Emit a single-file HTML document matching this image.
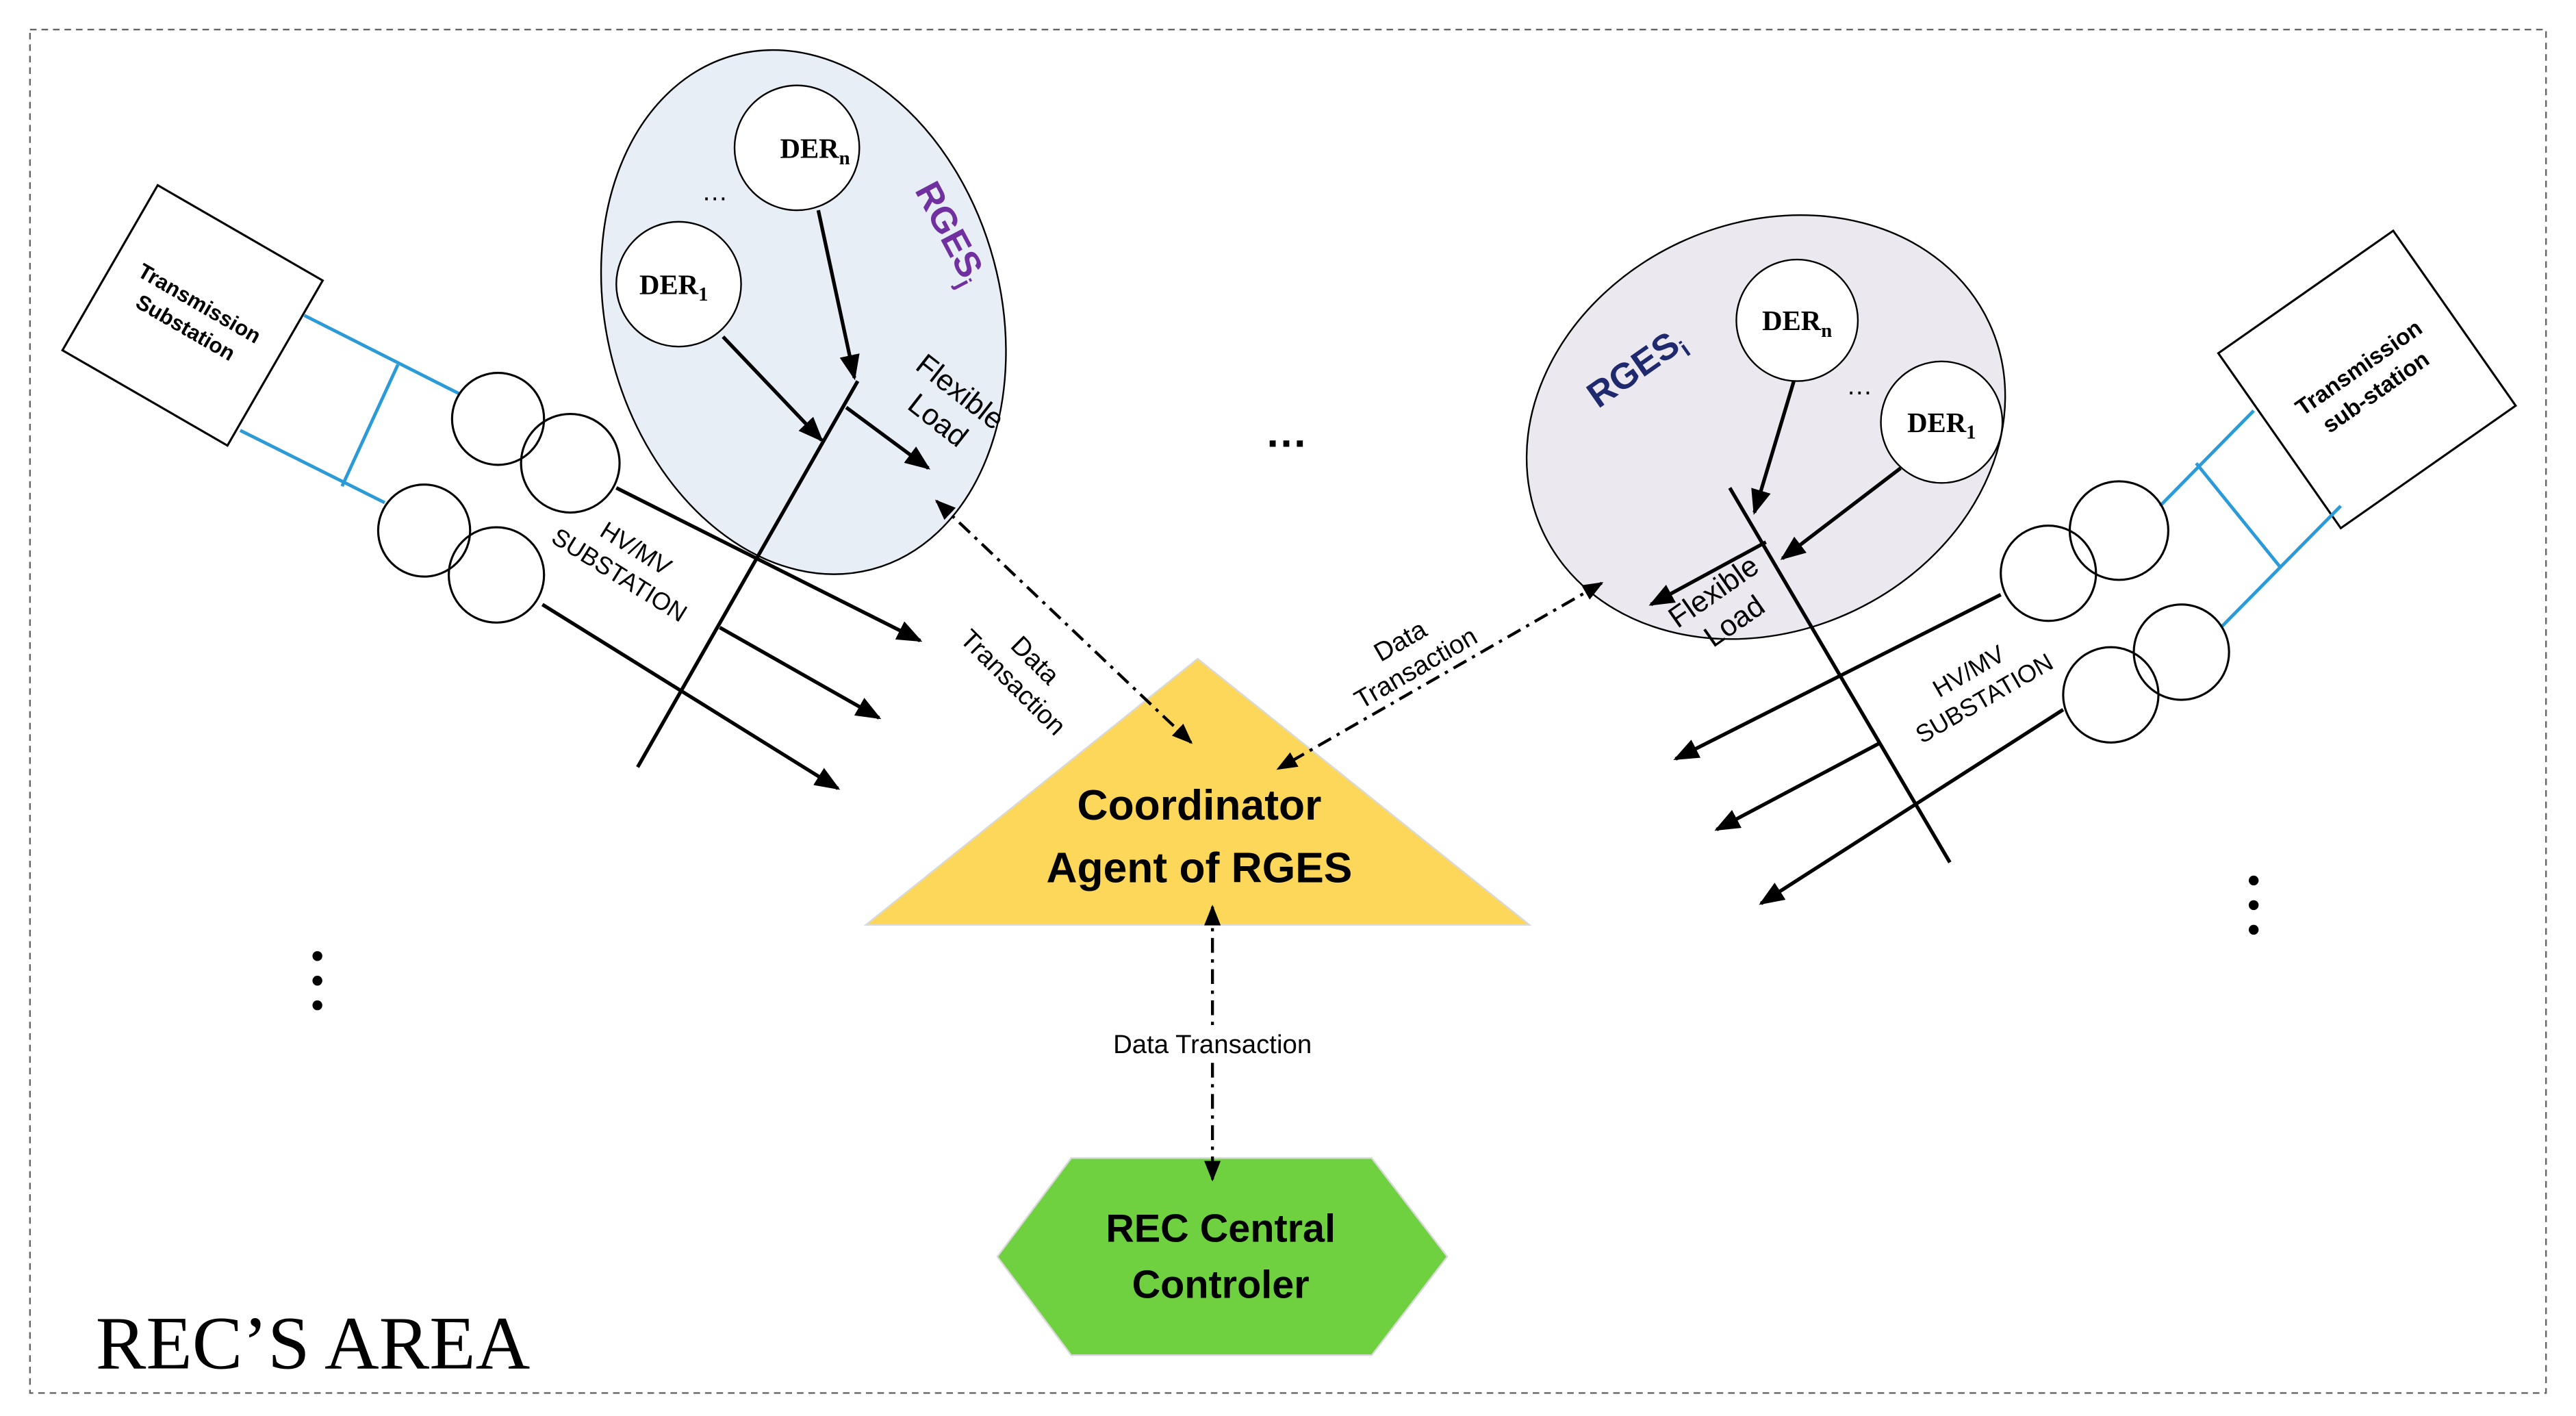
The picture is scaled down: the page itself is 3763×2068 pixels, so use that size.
<!DOCTYPE html>
<html><head><meta charset="utf-8"><style>html,body{margin:0;padding:0;background:#fff}svg{display:block}</style></head>
<body>
<svg width="3763" height="2068" viewBox="0 0 1568 862" xmlns="http://www.w3.org/2000/svg">
<defs>
<marker id="a" viewBox="0 0 10 10" refX="9" refY="5" markerWidth="7" markerHeight="7" orient="auto-start-reverse"><path d="M0,1 L10,5 L0,9 z" fill="#000"/></marker>
</defs>
<rect width="1568" height="862" fill="#fff"/>
<rect x="18" y="18" width="1532" height="830" fill="none" stroke="#666" stroke-width="1" stroke-dasharray="4,3"/>

<!-- Ellipses first -->
<ellipse cx="489" cy="190" rx="120" ry="162" transform="rotate(-15 489 190)" fill="#e8eef6" stroke="#000" stroke-width="1"/>
<ellipse cx="1075" cy="260" rx="150" ry="124" transform="rotate(-25 1075 260)" fill="#ece8f0" stroke="#000" stroke-width="1"/>

<!-- Left transmission substation -->
<g transform="translate(117,192) rotate(30)">
<rect x="-58" y="-58" width="116" height="116" fill="#fff" stroke="#000" stroke-width="1.3"/>
<text x="0" y="-4" font-family="Liberation Sans, sans-serif" font-size="13" font-weight="bold" text-anchor="middle">Transmission</text>
<text x="0" y="13" font-family="Liberation Sans, sans-serif" font-size="13" font-weight="bold" text-anchor="middle">Substation</text>
</g>
<g stroke="#2a9ad8" stroke-width="2" fill="none">
<line x1="185" y1="192" x2="280" y2="240"/>
<line x1="146" y1="262" x2="234" y2="306"/>
<line x1="242" y1="222" x2="208" y2="296"/>
</g>
<g fill="none" stroke="#000" stroke-width="1.3">
<circle cx="303" cy="255" r="28"/><circle cx="347" cy="282" r="30"/>
<circle cx="258" cy="323" r="28"/><circle cx="302" cy="350" r="29"/>
</g>
<g stroke="#000" stroke-width="2.2" fill="none">
<line x1="388" y1="467" x2="522" y2="232"/>
<line x1="375" y1="297" x2="560" y2="390" marker-end="url(#a)"/>
<line x1="438" y1="382" x2="535" y2="437" marker-end="url(#a)"/>
<line x1="330" y1="368" x2="510" y2="480" marker-end="url(#a)"/>
</g>
<text transform="translate(380,345) rotate(32)" font-family="Liberation Sans, sans-serif" font-size="15" text-anchor="middle"><tspan x="0" y="-8">HV/MV</tspan><tspan x="0" y="11">SUBSTATION</tspan></text>

<!-- Left RGES -->
<circle cx="485" cy="90" r="38" fill="#fff" stroke="#000" stroke-width="1"/>
<circle cx="413" cy="173" r="38" fill="#fff" stroke="#000" stroke-width="1"/>
<text x="496" y="96" font-family="Liberation Serif, serif" font-weight="bold" font-size="17" text-anchor="middle">DER<tspan font-size="12" dy="4">n</tspan></text>
<text x="410" y="179" font-family="Liberation Serif, serif" font-weight="bold" font-size="17" text-anchor="middle">DER<tspan font-size="12" dy="4">1</tspan></text>
<text x="435" y="122" font-family="Liberation Sans, sans-serif" font-size="16" text-anchor="middle">…</text>
<text transform="translate(572,145) rotate(62)" font-family="Liberation Sans, sans-serif" font-weight="bold" font-size="22" fill="#7030a0" text-anchor="middle">RGES<tspan font-size="14" dy="5">j</tspan></text>
<g stroke="#000" stroke-width="2.2" fill="none">
<line x1="498" y1="128" x2="520" y2="230" marker-end="url(#a)"/>
<line x1="440" y1="205" x2="500" y2="268" marker-end="url(#a)"/>
<line x1="515" y1="248" x2="565" y2="285" marker-end="url(#a)"/>
</g>
<text transform="translate(577,248) rotate(38)" font-family="Liberation Sans, sans-serif" font-size="18" text-anchor="middle"><tspan x="0" y="-6">Flexible</tspan><tspan x="0" y="16">Load</tspan></text>

<text x="783" y="272" font-family="Liberation Sans, sans-serif" font-size="26" font-weight="bold" text-anchor="middle">…</text>

<!-- Triangle -->
<polygon points="527,563 729,401 931,563" fill="#fdd75a" stroke="#d9d9d9" stroke-width="1"/>
<text x="730" y="499" font-family="Liberation Sans, sans-serif" font-weight="bold" font-size="26" text-anchor="middle">Coordinator</text>
<text x="730" y="537" font-family="Liberation Sans, sans-serif" font-weight="bold" font-size="26" text-anchor="middle">Agent of RGES</text>

<!-- Hexagon -->
<polygon points="607,765 652,705 835,705 881,765 835,825 652,825" fill="#6fd13f" stroke="#d9d9d9" stroke-width="1"/>
<text x="743" y="756" font-family="Liberation Sans, sans-serif" font-weight="bold" font-size="24" text-anchor="middle">REC Central</text>
<text x="743" y="790" font-family="Liberation Sans, sans-serif" font-weight="bold" font-size="24" text-anchor="middle">Controler</text>

<!-- dash-dot links (on top) -->
<g stroke="#000" stroke-width="1.8" fill="none" stroke-dasharray="9,4,2,4">
<line x1="570" y1="305" x2="725" y2="452" marker-start="url(#a)" marker-end="url(#a)"/>
<line x1="975" y1="355" x2="778" y2="468" marker-start="url(#a)" marker-end="url(#a)"/>
<line x1="738" y1="552" x2="738" y2="718" marker-start="url(#a)" marker-end="url(#a)"/>
</g>
<text transform="translate(622,410) rotate(45)" font-family="Liberation Sans, sans-serif" font-size="16" text-anchor="middle"><tspan x="0" y="-6">Data</tspan><tspan x="0" y="13">Transaction</tspan></text>
<text transform="translate(858,400) rotate(-30)" font-family="Liberation Sans, sans-serif" font-size="16" text-anchor="middle"><tspan x="0" y="-6">Data</tspan><tspan x="0" y="13">Transaction</tspan></text>
<rect x="668" y="626" width="140" height="20" fill="#fff"/>
<text x="738" y="641" font-family="Liberation Sans, sans-serif" font-size="16" text-anchor="middle">Data Transaction</text>

<!-- Right RGES -->
<circle cx="1094" cy="195" r="37" fill="#fff" stroke="#000" stroke-width="1"/>
<circle cx="1182" cy="257" r="37" fill="#fff" stroke="#000" stroke-width="1"/>
<text x="1094" y="201" font-family="Liberation Serif, serif" font-weight="bold" font-size="17" text-anchor="middle">DER<tspan font-size="12" dy="4">n</tspan></text>
<text x="1182" y="263" font-family="Liberation Serif, serif" font-weight="bold" font-size="17" text-anchor="middle">DER<tspan font-size="12" dy="4">1</tspan></text>
<text x="1132" y="240" font-family="Liberation Sans, sans-serif" font-size="16" text-anchor="middle">…</text>
<text transform="translate(1000,230) rotate(-35)" font-family="Liberation Sans, sans-serif" font-weight="bold" font-size="22" fill="#1f2a6e" text-anchor="middle">RGES<tspan font-size="14" dy="5">i</tspan></text>
<g stroke="#000" stroke-width="2.2" fill="none">
<line x1="1053" y1="297" x2="1187" y2="525"/>
<line x1="1092" y1="232" x2="1068" y2="312" marker-end="url(#a)"/>
<line x1="1157" y1="285" x2="1085" y2="340" marker-end="url(#a)"/>
<line x1="1075" y1="330" x2="1005" y2="368" marker-end="url(#a)"/>
</g>
<text transform="translate(1050,370) rotate(-35)" font-family="Liberation Sans, sans-serif" font-size="18" text-anchor="middle"><tspan x="0" y="-6">Flexible</tspan><tspan x="0" y="16">Load</tspan></text>

<!-- Right transmission substation -->
<g transform="translate(1441,231) rotate(-35)">
<rect x="-65" y="-65" width="130" height="130" fill="#fff" stroke="#000" stroke-width="1.3"/>
<text x="0" y="-4" font-family="Liberation Sans, sans-serif" font-size="14" font-weight="bold" text-anchor="middle">Transmission</text>
<text x="0" y="14" font-family="Liberation Sans, sans-serif" font-size="14" font-weight="bold" text-anchor="middle">sub-station</text>
</g>
<g stroke="#2a9ad8" stroke-width="2" fill="none">
<line x1="1315" y1="308" x2="1372" y2="250"/>
<line x1="1352" y1="382" x2="1425" y2="308"/>
<line x1="1337" y1="282" x2="1388" y2="345"/>
</g>
<g fill="none" stroke="#000" stroke-width="1.3">
<circle cx="1290" cy="323" r="30"/><circle cx="1247" cy="349" r="29"/>
<circle cx="1328" cy="397" r="29"/><circle cx="1285" cy="423" r="29"/>
</g>
<g stroke="#000" stroke-width="2.2" fill="none">
<line x1="1218" y1="362" x2="1020" y2="462" marker-end="url(#a)"/>
<line x1="1145" y1="452" x2="1045" y2="505" marker-end="url(#a)"/>
<line x1="1256" y1="432" x2="1072" y2="550" marker-end="url(#a)"/>
</g>
<text transform="translate(1205,420) rotate(-30)" font-family="Liberation Sans, sans-serif" font-size="15" text-anchor="middle"><tspan x="0" y="-8">HV/MV</tspan><tspan x="0" y="11">SUBSTATION</tspan></text>

<!-- vertical dots -->
<g fill="#000">
<circle cx="1372" cy="536" r="3"/><circle cx="1372" cy="551" r="3"/><circle cx="1372" cy="566" r="3"/>
<circle cx="193" cy="582" r="3"/><circle cx="193" cy="597" r="3"/><circle cx="193" cy="612" r="3"/>
</g>

<text x="58" y="833" font-family="Liberation Serif, serif" font-size="46">REC’S AREA</text>
</svg>
</body></html>
